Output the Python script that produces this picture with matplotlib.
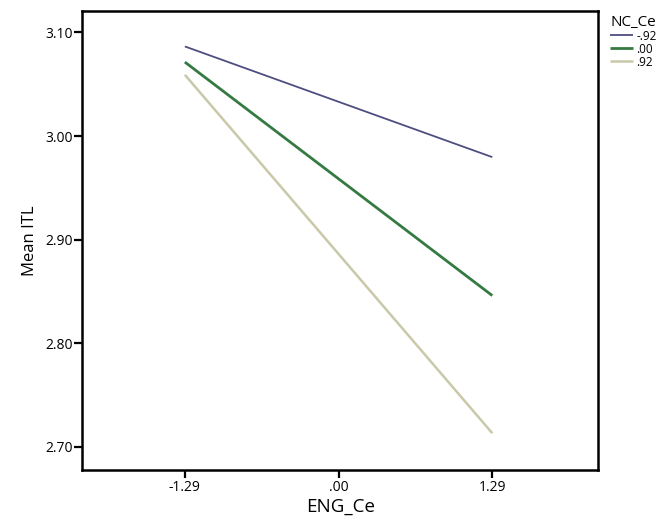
import matplotlib
matplotlib.use("Agg")
import matplotlib.pyplot as plt

plt.rcParams["font.family"] = ["Open Sans", "DejaVu Sans"]

# data
eng_levels = [-1.29, 1.29]
nc_labels = ["-.92", ".00", ".92"]
mean_itl = {
    "-.92": [3.0865, 2.9796],
    ".00": [3.0714, 2.8459],
    ".92": [3.0591, 2.7130],
}
x_ticks = [-1.29, 0.00, 1.29]
x_ticklabels = ["-1.29", ".00", "1.29"]
y_ticks = [2.70, 2.80, 2.90, 3.00, 3.10]
y_ticklabels = ["2.70", "2.80", "2.90", "3.00", "3.10"]

colors = {"-.92": "#4e4e80", ".00": "#357a42", ".92": "#c9c9aa"}
widths = {"-.92": 1.3, ".00": 2.0, ".92": 1.8}

fig = plt.figure(figsize=(6.62, 5.2), dpi=100)
ax = fig.add_axes([0.1243, 0.0962, 0.7790, 0.8832])

for lab in nc_labels:
    ax.plot(eng_levels, mean_itl[lab], color=colors[lab], lw=widths[lab], label=lab,
            solid_capstyle="butt")

ax.set_xlim(-2.151, 2.177)
ax.set_ylim(2.6775, 3.121)
ax.set_xticks(x_ticks)
ax.set_xticklabels(x_ticklabels)
ax.set_yticks(y_ticks)
ax.set_yticklabels(y_ticklabels)
ax.tick_params(direction="out", length=5.5, width=1.6, labelsize=10, pad=1.5)

for s in ax.spines.values():
    s.set_linewidth(1.8)

ax.set_xlabel("ENG_Ce", fontsize=13.5, labelpad=2)
ax.set_ylabel("Mean ITL", fontsize=12, labelpad=5)

leg = ax.legend(loc="upper left", bbox_to_anchor=(0.922, 0.972),
                bbox_transform=fig.transFigure, frameon=False,
                title="NC_Ce", fontsize=8.5, title_fontsize=11,
                handlelength=1.9, handletextpad=0.3, labelspacing=0.0,
                borderaxespad=0, borderpad=0)
leg._legend_box.align = "left"

fig.savefig("out.png", dpi=100)
